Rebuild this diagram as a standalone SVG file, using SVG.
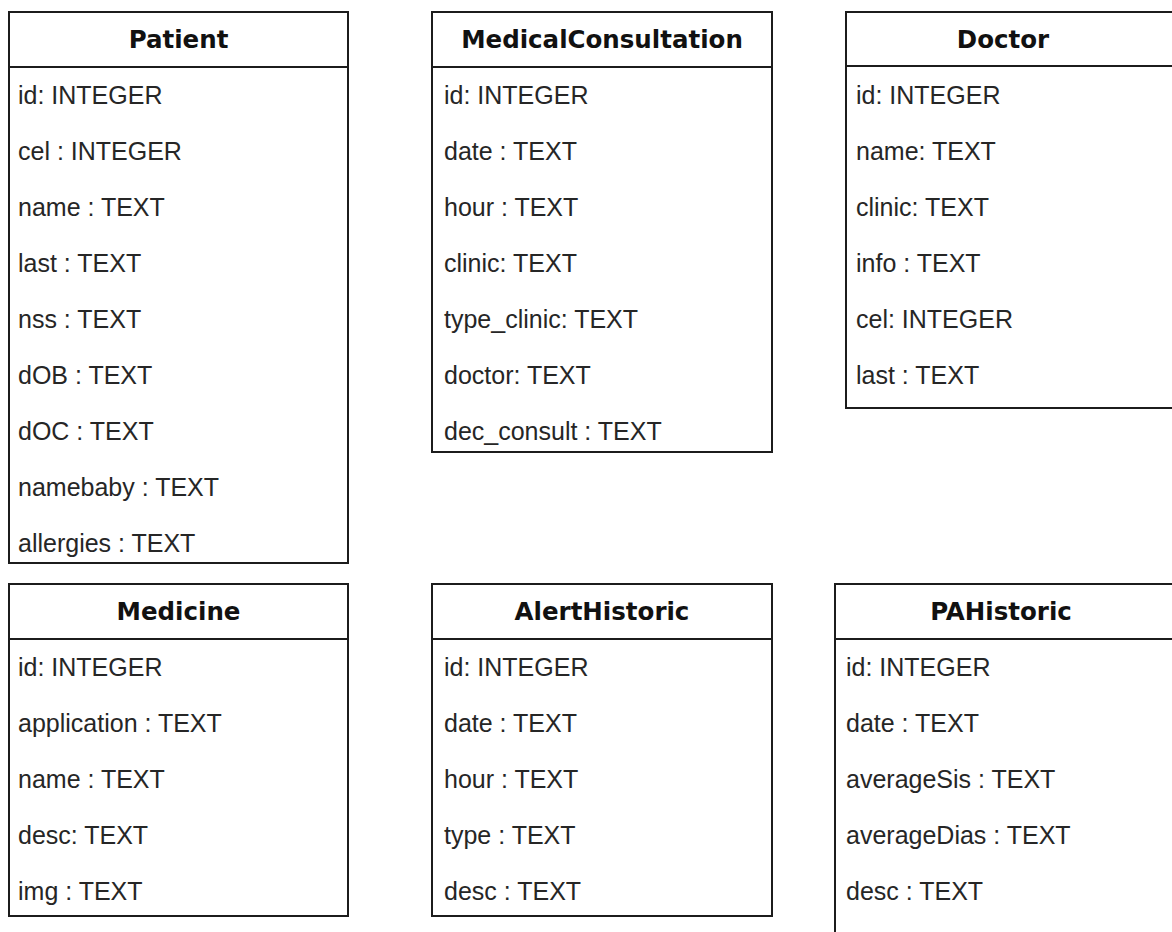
<svg xmlns="http://www.w3.org/2000/svg" width="1172" height="932" viewBox="0 0 1172 932">
  <style>
    .box { fill: #ffffff; stroke: #1c1c1c; stroke-width: 2; }
    .sep { stroke: #1c1c1c; stroke-width: 2; }
    .title { font-family: "DejaVu Sans", Verdana, sans-serif; font-weight: bold; font-size: 24.5px; fill: #111111; text-anchor: middle; }
    .field { font-family: "Liberation Sans", Arial, sans-serif; font-size: 25px; fill: #262626; }
  </style>
  <rect width="1172" height="932" fill="#ffffff"/>

  <!-- Patient table -->
  <g id="patient">
    <rect class="box" x="9" y="12" width="339" height="551"/>
    <line class="sep" x1="9" y1="67" x2="348" y2="67"/>
    <text class="title" x="178.5" y="48">Patient</text>
    <text class="field" x="18" y="104">id: INTEGER</text>
    <text class="field" x="18" y="160">cel : INTEGER</text>
    <text class="field" x="18" y="216">name : TEXT</text>
    <text class="field" x="18" y="272">last : TEXT</text>
    <text class="field" x="18" y="328">nss : TEXT</text>
    <text class="field" x="18" y="384">dOB : TEXT</text>
    <text class="field" x="18" y="440">dOC : TEXT</text>
    <text class="field" x="18" y="496">namebaby : TEXT</text>
    <text class="field" x="18" y="552">allergies : TEXT</text>
  </g>

  <!-- MedicalConsultation table -->
  <g id="medical-consultation">
    <rect class="box" x="432" y="12" width="340" height="440"/>
    <line class="sep" x1="432" y1="67" x2="772" y2="67"/>
    <text class="title" x="602" y="48">MedicalConsultation</text>
    <text class="field" x="444" y="104">id: INTEGER</text>
    <text class="field" x="444" y="160">date : TEXT</text>
    <text class="field" x="444" y="216">hour : TEXT</text>
    <text class="field" x="444" y="272">clinic: TEXT</text>
    <text class="field" x="444" y="328">type_clinic: TEXT</text>
    <text class="field" x="444" y="384">doctor: TEXT</text>
    <text class="field" x="444" y="440">dec_consult : TEXT</text>
  </g>

  <!-- Doctor table -->
  <g id="doctor">
    <rect class="box" x="846" y="12" width="340" height="396"/>
    <line class="sep" x1="846" y1="66" x2="1186" y2="66"/>
    <text class="title" x="1003" y="48">Doctor</text>
    <text class="field" x="856" y="104">id: INTEGER</text>
    <text class="field" x="856" y="160">name: TEXT</text>
    <text class="field" x="856" y="216">clinic: TEXT</text>
    <text class="field" x="856" y="272">info : TEXT</text>
    <text class="field" x="856" y="328">cel: INTEGER</text>
    <text class="field" x="856" y="384">last : TEXT</text>
  </g>

  <!-- Medicine table -->
  <g id="medicine">
    <rect class="box" x="9" y="584" width="339" height="332"/>
    <line class="sep" x1="9" y1="639" x2="348" y2="639"/>
    <text class="title" x="178.5" y="620">Medicine</text>
    <text class="field" x="18" y="676">id: INTEGER</text>
    <text class="field" x="18" y="732">application : TEXT</text>
    <text class="field" x="18" y="788">name : TEXT</text>
    <text class="field" x="18" y="844">desc: TEXT</text>
    <text class="field" x="18" y="900">img : TEXT</text>
  </g>

  <!-- AlertHistoric table -->
  <g id="alert-historic">
    <rect class="box" x="432" y="584" width="340" height="332"/>
    <line class="sep" x1="432" y1="639" x2="772" y2="639"/>
    <text class="title" x="602" y="620">AlertHistoric</text>
    <text class="field" x="444" y="676">id: INTEGER</text>
    <text class="field" x="444" y="732">date : TEXT</text>
    <text class="field" x="444" y="788">hour : TEXT</text>
    <text class="field" x="444" y="844">type : TEXT</text>
    <text class="field" x="444" y="900">desc : TEXT</text>
  </g>

  <!-- PAHistoric table -->
  <g id="pa-historic">
    <rect class="box" x="835" y="584" width="350" height="370"/>
    <line class="sep" x1="835" y1="639" x2="1185" y2="639"/>
    <text class="title" x="1001" y="620">PAHistoric</text>
    <text class="field" x="846" y="676">id: INTEGER</text>
    <text class="field" x="846" y="732">date : TEXT</text>
    <text class="field" x="846" y="788">averageSis : TEXT</text>
    <text class="field" x="846" y="844">averageDias : TEXT</text>
    <text class="field" x="846" y="900">desc : TEXT</text>
  </g>

  <!-- no relationship lines are drawn between the tables -->
  <g id="connectors"/>
</svg>
